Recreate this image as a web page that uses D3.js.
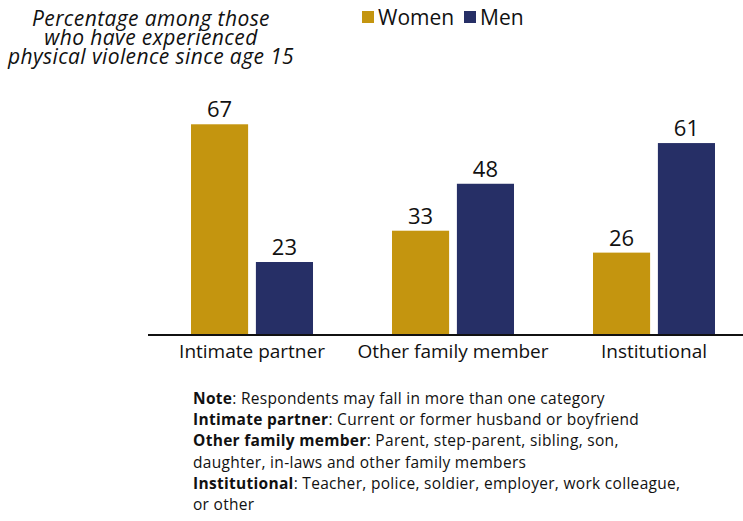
<!DOCTYPE html>
<html>
<head>
<meta charset="utf-8">
<script src="https://cdn.jsdelivr.net/npm/d3@7"></script>
<style>
  html, body { margin: 0; padding: 0; background: #fff; }
  svg { display: block; font-family: "Open Sans", "Noto Sans", sans-serif; }
</style>
</head>
<body>
<svg id="chart" width="743" height="521"></svg>
<script>
// Categories and series values (percent)
const categories = ["Intimate partner", "Other family member", "Institutional"];
const seriesNames = ["Women", "Men"];
const women = [67, 33, 26];
const men = [23, 48, 61];
const seriesColors = ["#C4950F", "#262F66"];

const titleLines = ["Percentage among those", "who have experienced", "physical violence since age 15"];
const noteLines = [
  [["Note", true], [": Respondents may fall in more than one category", false]],
  [["Intimate partner", true], [": Current or former husband or boyfriend", false]],
  [["Other family member", true], [": Parent, step-parent, sibling, son,", false]],
  [["daughter, in-laws and other family members", false]],
  [["Institutional", true], [": Teacher, police, soldier, employer, work colleague,", false]],
  [["or other", false]]
];

const svg = d3.select("#chart");

const baseY = 334;
const y = d3.scaleLinear().domain([0, 100]).range([baseY, baseY - 313]);

// Category groups: step 201px, group width 122px
const x0 = d3.scaleBand().domain(categories)
  .range([130.7, 775.3]).paddingInner(0.393).paddingOuter(0.3);
const x1 = d3.scaleBand().domain(seriesNames).range([0, x0.bandwidth()]).paddingInner(0.12);

const rows = categories.map((c, i) => ({ cat: c, vals: [women[i], men[i]] }));

const groups = svg.selectAll("g.grp").data(rows).enter().append("g")
  .attr("class", "grp")
  .attr("transform", d => `translate(${x0(d.cat)},0)`);

groups.selectAll("rect").data(d => d.vals.map((v, j) => ({ v, s: seriesNames[j], j })))
  .enter().append("rect")
  .attr("x", d => x1(d.s))
  .attr("width", x1.bandwidth())
  .attr("y", d => y(d.v))
  .attr("height", d => baseY - y(d.v))
  .attr("fill", d => seriesColors[d.j]);

groups.selectAll("text.val").data(d => d.vals.map((v, j) => ({ v, s: seriesNames[j] })))
  .enter().append("text")
  .attr("class", "val")
  .attr("x", d => x1(d.s) + x1.bandwidth() / 2)
  .attr("y", d => y(d.v) - 7)
  .attr("text-anchor", "middle")
  .attr("font-size", 22)
  .attr("fill", "#111")
  .text(d => d.v);

// Baseline axis with category labels
const axis = d3.axisBottom(x0).tickSize(0).tickPadding(11);
const ag = svg.append("g").attr("transform", `translate(0,${baseY})`).call(axis);
ag.select(".domain").remove();
ag.selectAll("text").attr("font-size", 19).attr("fill", "#111")
  .attr("font-family", "'Open Sans', sans-serif");
svg.append("line")
  .attr("x1", 148).attr("x2", 743)
  .attr("y1", baseY + 1).attr("y2", baseY + 1)
  .attr("stroke", "#111").attr("stroke-width", 2);

// Title
svg.append("text")
  .attr("font-size", 21).attr("font-style", "italic").attr("fill", "#111")
  .attr("letter-spacing", 0.4)
  .attr("text-anchor", "middle")
  .selectAll("tspan").data(titleLines).enter().append("tspan")
  .attr("x", 151).attr("y", (d, i) => 26 + i * 19)
  .text(d => d);

// Legend
const legX = [362, 464];
seriesNames.forEach((s, i) => {
  svg.append("rect").attr("x", legX[i]).attr("y", 11).attr("width", 12).attr("height", 12)
    .attr("fill", seriesColors[i]);
  svg.append("text").attr("x", legX[i] + 16).attr("y", 24.5)
    .attr("font-size", 21).attr("fill", "#111").text(s);
});

// Notes
const notes = svg.append("g");
noteLines.forEach((parts, i) => {
  const t = notes.append("text").attr("x", 193).attr("y", 404 + i * 21.2)
    .attr("font-size", 15.5).attr("letter-spacing", 0.3).attr("fill", "#111");
  parts.forEach(p => {
    t.append("tspan").attr("font-weight", p[1] ? "bold" : "normal").text(p[0]);
  });
});
</script>
</body>
</html>
